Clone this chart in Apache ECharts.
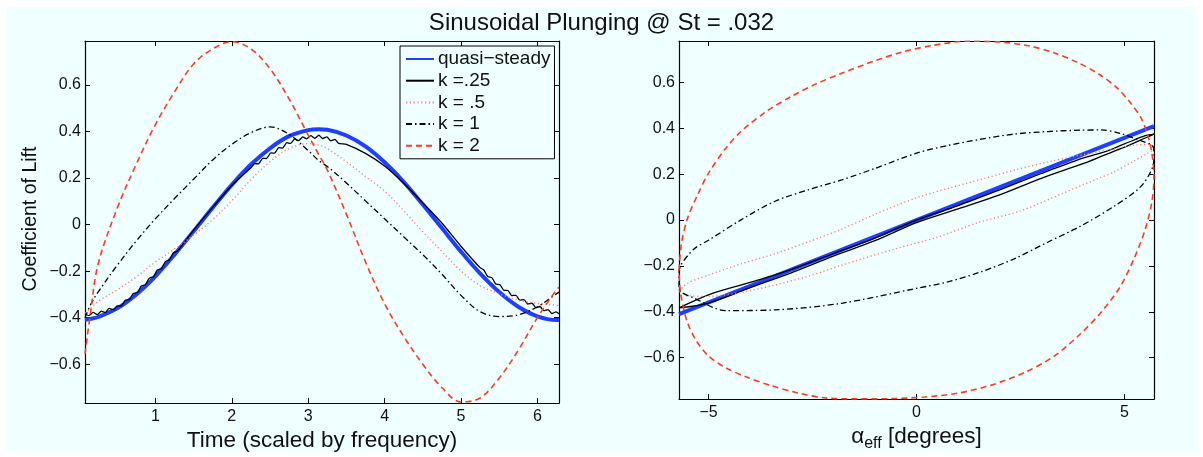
<!DOCTYPE html>
<html>
<head>
<meta charset="utf-8">
<script src="https://cdn.jsdelivr.net/npm/echarts@6/dist/echarts.min.js"></script>
<style>
  html, body { margin: 0; padding: 0; background: #ffffff; }
  #chart { width: 1203px; height: 457px; }
</style>
</head>
<body>
<div id="chart"></div>
<script>
// ---- Left panel: lift coefficient over one period ----
const timeLeft = [0.0785, 0.15, 0.25, 0.5, 0.75, 1.0, 1.25, 1.5, 1.75, 2.0, 2.25, 2.5, 2.75, 3.0, 3.14,
                  3.25, 3.5, 3.75, 4.0, 4.25, 4.5, 4.75, 5.0, 5.25, 5.5, 5.75, 6.0, 6.25, 6.2832];
const clQuasi = [-0.409, -0.405, -0.397, -0.360, -0.300, -0.222, -0.129, -0.029, 0.073, 0.171, 0.258, 0.328, 0.380, 0.406, 0.410,
                 0.408, 0.383, 0.336, 0.268, 0.184, 0.086, -0.015, -0.116, -0.210, -0.290, -0.353, -0.394, -0.410, -0.410];
const clK05 = [-0.381, -0.360, -0.330, -0.280, -0.225, -0.160, -0.105, -0.045, 0.022, 0.102, 0.193, 0.270, 0.327, 0.348, 0.342,
               0.327, 0.270, 0.207, 0.144, 0.060, -0.031, -0.115, -0.199, -0.262, -0.297, -0.325, -0.339, -0.346, -0.350];
const clK1 = [-0.400, -0.345, -0.290, -0.175, -0.070, 0.025, 0.112, 0.195, 0.278, 0.345, 0.395, 0.420, 0.388, 0.318, 0.275,
              0.250, 0.179, 0.102, 0.025, -0.052, -0.129, -0.213, -0.304, -0.374, -0.395, -0.388, -0.353, -0.297, -0.290];
const clK2 = [-0.557, -0.380, -0.170, 0.070, 0.260, 0.430, 0.570, 0.690, 0.755, 0.786, 0.755, 0.670, 0.540, 0.385, 0.300,
              0.235, 0.045, -0.160, -0.340, -0.480, -0.600, -0.700, -0.762, -0.745, -0.660, -0.540, -0.400, -0.280, -0.270];

// k = .25 is sampled more finely: its trace carries a small saw-tooth ripple
const timeK025 = [0.0785, 0.13, 0.185, 0.24, 0.29, 0.345, 0.395, 0.45, 0.5, 0.555, 0.605, 0.66, 0.71, 0.765, 0.815, 0.87,
                  0.92, 0.975, 1.025, 1.08, 1.13, 1.185, 1.235, 1.29, 1.5, 1.75, 2.0, 2.25,
                  2.3, 2.35, 2.405, 2.455, 2.51, 2.56, 2.615, 2.665, 2.72, 2.77, 2.825, 2.875, 2.93, 2.98, 3.035, 3.085,
                  3.14, 3.19, 3.245, 3.295, 3.35, 3.4, 3.5, 3.75, 4.0, 4.25, 4.5, 4.75, 5.0, 5.25,
                  5.3, 5.35, 5.405, 5.455, 5.51, 5.56, 5.615, 5.665, 5.72, 5.77, 5.825, 5.875, 5.93, 5.98, 6.035, 6.085,
                  6.14, 6.19, 6.245, 6.2832];
const clK025 = [-0.384, -0.391, -0.377, -0.387, -0.372, -0.378, -0.360, -0.366, -0.349, -0.349, -0.325, -0.322, -0.296, -0.292, -0.264, -0.258,
                -0.230, -0.224, -0.195, -0.189, -0.159, -0.151, -0.121, -0.114, -0.024, 0.074, 0.168, 0.244,
                0.262, 0.261, 0.285, 0.284, 0.308, 0.307, 0.331, 0.329, 0.352, 0.349, 0.368, 0.361, 0.377, 0.368, 0.382, 0.371,
                0.384, 0.370, 0.377, 0.360, 0.366, 0.349, 0.345, 0.306, 0.252, 0.178, 0.094, 0.007, -0.093, -0.185,
                -0.195, -0.223, -0.228, -0.255, -0.258, -0.282, -0.283, -0.305, -0.304, -0.325, -0.322, -0.342, -0.338, -0.357, -0.352, -0.370,
                -0.365, -0.382, -0.375, -0.383];

// ---- Right panel: lift coefficient against effective angle (closed loops) ----
const alphaQuasi = [-5.71, 5.71];
const clQuasiR = [-0.41, 0.41];
const alphaK025 = [-5.71, -5.0, -4.0, -3.0, -2.0, -1.0, 0.0, 1.0, 2.0, 3.0, 4.0, 4.5, 5.0, 5.5, 5.71,
                   5.5, 5.0, 4.5, 4.0, 3.0, 2.0, 1.0, 0.0, -1.0, -2.0, -3.0, -4.0, -5.0, -5.71];
const clK025R = [-0.383, -0.326, -0.272, -0.215, -0.147, -0.079, 0.000, 0.063, 0.132, 0.203, 0.270, 0.296, 0.332, 0.368, 0.375,
                 0.358, 0.318, 0.282, 0.246, 0.182, 0.110, 0.049, -0.011, -0.090, -0.157, -0.229, -0.295, -0.362, -0.383];
const alphaK05 = [-5.71, -5.5, -5.0, -4.2, -3.4, -2.6, -1.8, -1.0, 0.0, 0.8, 1.6, 2.4, 3.2, 4.0, 4.75, 5.3, 5.6, 5.71,
                  5.55, 5.2, 4.75, 4.35, 3.5, 2.5, 1.5, 0.5, -0.5, -1.8, -2.6, -3.4, -4.2, -5.0, -5.5, -5.71];
const clK05R = [-0.310, -0.275, -0.240, -0.190, -0.147, -0.095, -0.040, 0.025, 0.097, 0.140, 0.180, 0.220, 0.255, 0.285, 0.310, 0.328, 0.330, 0.310,
                0.290, 0.255, 0.210, 0.180, 0.115, 0.040, -0.010, -0.075, -0.125, -0.197, -0.245, -0.283, -0.315, -0.333, -0.330, -0.310];
const alphaK1 = [-5.71, -5.67, -5.35, -5.0, -4.2, -3.4, -2.6, -1.8, -1.0, 0.0, 0.75, 1.55, 2.35, 3.15, 3.95, 4.45, 4.9, 5.39, 5.67, 5.71,
                 5.69, 5.39, 4.75, 3.95, 3.15, 2.35, 1.55, 0.75, 0.0, -1.8, -3.4, -4.6, -5.35, -5.67, -5.71, -5.71];
const clK1R = [-0.230, -0.197, -0.126, -0.088, 0.003, 0.082, 0.132, 0.175, 0.225, 0.292, 0.325, 0.353, 0.375, 0.386, 0.392, 0.393, 0.378, 0.346, 0.325, 0.290,
               0.239, 0.146, 0.060, -0.026, -0.097, -0.169, -0.226, -0.270, -0.298, -0.363, -0.392, -0.395, -0.340, -0.312, -0.280, -0.230];
const alphaK2 = [-5.71, -5.65, -5.5, -5.25, -5.0, -4.6, -4.2, -3.6, -3.0, -2.4, -1.8, -1.0, -0.3, 0.4, 1.2, 2.0, 2.7, 3.3, 3.9, 4.4, 4.8, 5.15, 5.4, 5.56, 5.66, 5.71,
                 5.66, 5.5, 5.25, 4.9, 4.45, 3.95, 3.3, 2.6, 1.8, 1.0, 0.2, -0.6, -1.4, -2.2, -2.9, -3.5, -4.1, -4.6, -5.0, -5.3, -5.5, -5.62, -5.69, -5.71];
const clK2R = [-0.220, -0.100, 0.010, 0.115, 0.205, 0.310, 0.390, 0.475, 0.540, 0.595, 0.640, 0.695, 0.735, 0.762, 0.780, 0.777, 0.760, 0.730, 0.685, 0.635, 0.580, 0.510, 0.445, 0.370, 0.290, 0.190,
               0.080, -0.040, -0.160, -0.290, -0.400, -0.495, -0.595, -0.665, -0.720, -0.755, -0.772, -0.779, -0.780, -0.776, -0.752, -0.722, -0.684, -0.643, -0.593, -0.525, -0.450, -0.370, -0.290, -0.220];

// ---- Tick positions ----
const yTicks = [-0.6, -0.4, -0.2, 0, 0.2, 0.4, 0.6];
const xTicksTime = [1, 2, 3, 4, 5, 6];
const xTicksAlpha = [-5, 0, 5];

const names = ['quasi\u2212steady', 'k =.25', 'k = .5', 'k = 1', 'k = 2'];

const FONT = '"Liberation Sans", Arial, Helvetica, sans-serif';
const BG = '#f0ffff';
const INK = '#111111';
const fmt = v => (v < 0 ? '\u2212' : '') + (v === 0 ? '0' : String(Math.abs(v)));
const pair = (xs, ys) => xs.map((x, i) => [x, ys[i]]);

const styles = [
  { color: '#1f3fff', width: 4, type: 'solid' },
  { color: '#000000', width: 1.3, type: 'solid' },
  { color: '#ff7d6e', width: 1.4, type: [1.2, 2.6] },
  { color: '#000000', width: 1.3, type: [6, 3, 1.5, 3] },
  { color: '#ff3a1a', width: 1.6, type: [6, 4] }
];

function valueAxis(opts) {
  const base = {
    type: 'value',
    scale: true,
    splitLine: { show: false },
    axisLine: { show: true, onZero: false, lineStyle: { color: '#000', width: 1.2 } },
    axisTick: { show: true, inside: true, length: 5, customValues: opts.ticks, lineStyle: { color: '#000', width: 1 } },
    axisLabel: {
      show: opts.labels !== false, customValues: opts.ticks, formatter: fmt,
      color: INK, fontSize: 16, fontFamily: FONT, margin: opts.margin || 5
    }
  };
  return Object.assign(base, opts.extra || {});
}

function lineSeries(i, data, xi, yi, smooth) {
  const s = styles[i];
  return {
    name: names[i], type: 'line', xAxisIndex: xi, yAxisIndex: yi,
    data: data, symbol: 'none', smooth: smooth, clip: true,
    lineStyle: { color: s.color, width: s.width, type: s.type },
    itemStyle: { color: s.color },
    emphasis: { disabled: true },
    z: i === 0 ? 1 : 2 + i
  };
}

const chart = echarts.init(document.getElementById('chart'), null, { renderer: 'canvas' });

const leftY = { min: -0.767, max: 0.789 };
const rightY = { min: -0.781, max: 0.781 };
const leftX = { min: 0.0785, max: 6.2832 };
const rightX = { min: -5.71, max: 5.71 };

const leftData = [pair(timeLeft, clQuasi), pair(timeK025, clK025), pair(timeLeft, clK05), pair(timeLeft, clK1), pair(timeLeft, clK2)];
const leftSeries = leftData.map((d, i) => lineSeries(i, d, 0, 0, i === 1 ? 0.15 : 0.35));
const rightData = [pair(alphaQuasi, clQuasiR), pair(alphaK025, clK025R), pair(alphaK05, clK05R), pair(alphaK1, clK1R), pair(alphaK2, clK2R)];
const rightSeries = rightData.map((d, i) => lineSeries(i, d, 2, 2, i === 0 ? false : 0.3));

chart.setOption({
  backgroundColor: '#ffffff',
  animation: false,
  textStyle: { fontFamily: FONT },
  graphic: [{
    type: 'rect', silent: true, z: -10,
    shape: { x: 6, y: 7, width: 1191, height: 444 },
    style: { fill: BG }
  }],
  title: {
    text: 'Sinusoidal Plunging @ St = .032',
    left: 'center', top: 6,
    textStyle: { fontSize: 24, fontWeight: 'normal', color: INK, fontFamily: FONT }
  },
  legend: {
    data: names,
    orient: 'vertical',
    left: 400, top: 46,
    itemWidth: 28, itemHeight: 14, itemGap: 1.7,
    padding: [3, 4, 3, 5],
    borderColor: '#000', borderWidth: 1,
    backgroundColor: BG,
    selectedMode: false,
    itemStyle: { opacity: 0 },
    textStyle: { fontSize: 19, lineHeight: 20, color: INK, fontFamily: FONT, padding: [0, 0, 0, -1] }
  },
  grid: [
    { left: 85, top: 41, width: 474, height: 370, backgroundColor: BG, show: true, borderWidth: 0 },
    { left: 679, top: 41, width: 475, height: 364, backgroundColor: BG, show: true, borderWidth: 0 }
  ],
  xAxis: [
    valueAxis({ ticks: xTicksTime, extra: Object.assign({ gridIndex: 0, position: 'bottom',
      name: 'Time (scaled by frequency)', nameLocation: 'middle', nameGap: 20,
      nameTextStyle: { fontSize: 22.5, color: INK, fontFamily: FONT } }, leftX) }),
    valueAxis({ ticks: xTicksTime, labels: false, extra: Object.assign({ gridIndex: 0, position: 'top' }, leftX) }),
    valueAxis({ ticks: xTicksAlpha, extra: Object.assign({ gridIndex: 1, position: 'bottom',
      name: '{n|\u03b1}{s|eff}{n| [degrees]}', nameLocation: 'middle', nameGap: 24,
      nameTextStyle: { fontSize: 22.5, color: INK, fontFamily: FONT,
        rich: {
          n: { fontSize: 22.5, color: INK, fontFamily: FONT, verticalAlign: 'top', lineHeight: 24 },
          s: { fontSize: 16, color: INK, fontFamily: FONT, verticalAlign: 'top', lineHeight: 24, padding: [11, 0, 0, 0] }
        } } }, rightX) }),
    valueAxis({ ticks: xTicksAlpha, labels: false, extra: Object.assign({ gridIndex: 1, position: 'top' }, rightX) })
  ],
  yAxis: [
    valueAxis({ ticks: yTicks, margin: 4, extra: Object.assign({ gridIndex: 0, position: 'left',
      name: 'Coefficient of Lift', nameLocation: 'middle', nameGap: 44,
      nameTextStyle: { fontSize: 19.5, color: INK, fontFamily: FONT, padding: [0, 0, 0, 6] } }, leftY) }),
    valueAxis({ ticks: yTicks, labels: false, extra: Object.assign({ gridIndex: 0, position: 'right' }, leftY) }),
    valueAxis({ ticks: yTicks, margin: 4, extra: Object.assign({ gridIndex: 1, position: 'left' }, rightY) }),
    valueAxis({ ticks: yTicks, labels: false, extra: Object.assign({ gridIndex: 1, position: 'right' }, rightY) })
  ],
  series: leftSeries.concat(rightSeries)
});
</script>
</body>
</html>
